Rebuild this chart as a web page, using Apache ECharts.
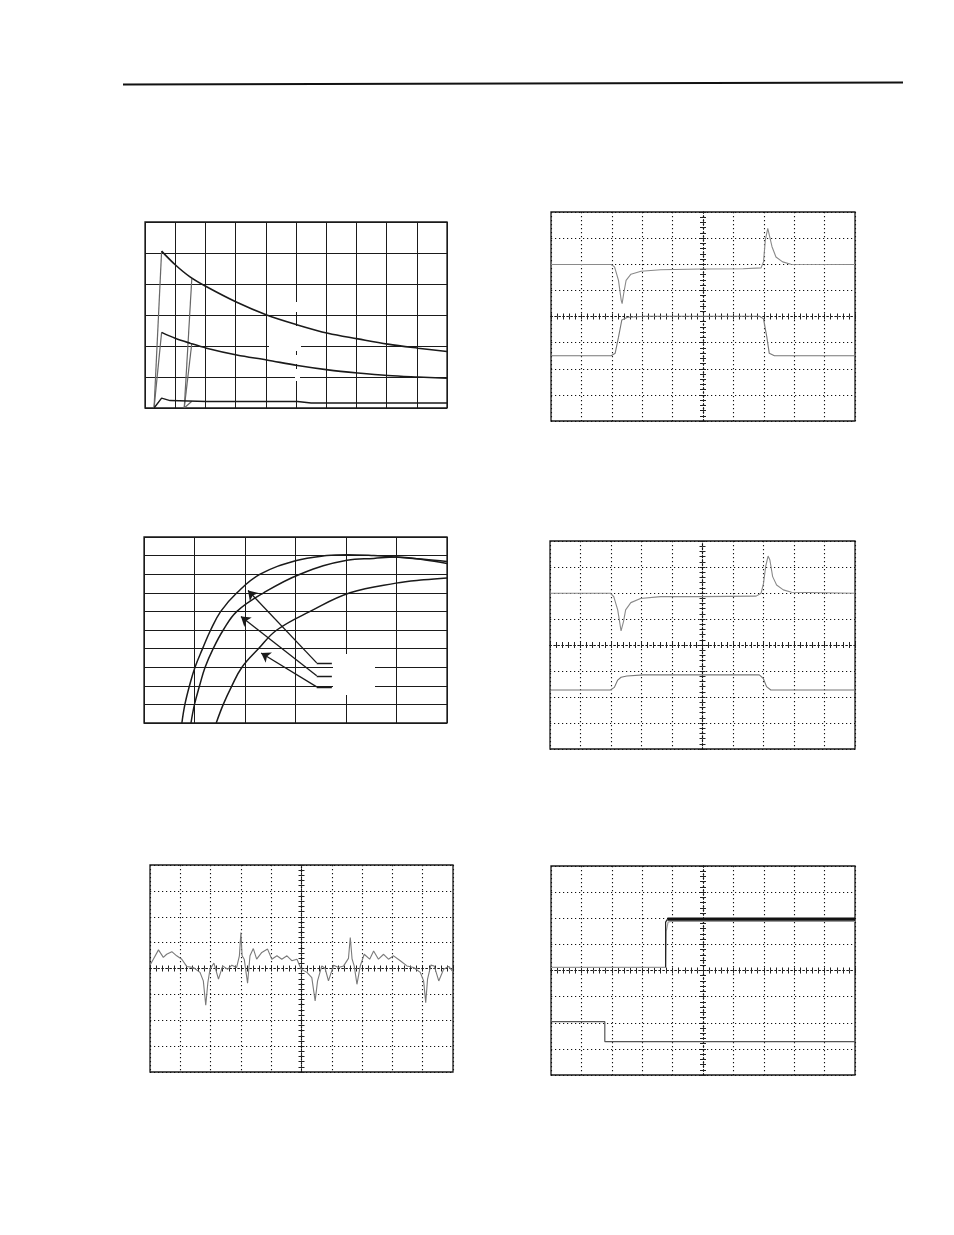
<!DOCTYPE html>
<html>
<head>
<meta charset="utf-8">
<script src="https://cdn.jsdelivr.net/npm/echarts@6/dist/echarts.min.js"></script>
<style>
html,body{margin:0;padding:0;background:#fff;}
#chart{width:954px;height:1235px;}
</style>
</head>
<body>
<div id="chart"></div>
<script>
// ---------- Chart 1 (top-left): decay curves, x 0..10, y 0..6 ----------
const c1Decay1 = [[0.55,5.06],[1.0,4.62],[1.49,4.23],[2.04,3.91],[3.04,3.41],[4.03,3.0],[5.05,2.68],[6.06,2.41],[7.05,2.23],[8.04,2.06],[9.04,1.93],[10,1.82]];
const c1Decay2 = [[0.55,2.44],[1.0,2.25],[1.49,2.09],[2.04,1.93],[3.04,1.71],[4.03,1.55],[5.05,1.37],[6.06,1.23],[7.05,1.13],[8.04,1.05],[9.04,1.0],[10,0.96]];
const c1Decay3 = [[0.30,0],[0.55,0.32],[0.83,0.24],[2.04,0.21],[5.05,0.21],[5.5,0.16],[10,0.16]];
const c1Rise1 = [[0.30,0],[0.55,5.06]];
const c1Rise2 = [[0.30,0],[0.55,2.44]];
const c1Rise3 = [[1.30,0],[1.55,4.18]];
const c1Rise4 = [[1.30,0],[1.55,2.09]];
const c1Rise5 = [[1.30,0],[1.55,0.22]];

// ---------- Chart 2 (middle-left): rising curves, x 0..6, y 0..10 ----------
const c2Curve1 = [[0.75,0],[0.81,1],[0.90,2],[1.01,3],[1.16,4],[1.32,5],[1.52,6],[1.84,7],[2.30,8],[3.0,8.72],[3.62,9.0],[4.02,9.05],[4.55,9.0],[4.99,8.92],[5.54,8.8],[6.0,8.68]];
const c2Curve2 = [[0.93,0],[1.0,1],[1.10,2],[1.21,3],[1.37,4],[1.57,5],[1.84,6],[2.37,7],[3.09,8],[4.02,8.75],[4.55,8.85],[4.99,8.92],[5.54,8.78],[6.0,8.58]];
const c2Curve3 = [[1.43,0],[1.57,1],[1.74,2],[1.94,3],[2.27,4],[2.63,5],[3.29,6],[4.08,7],[4.99,7.52],[5.54,7.7],[6.0,7.8]];
const c2Arrows = [
  [[3.42,3.23],[2.06,7.12]],
  [[3.42,2.54],[1.92,5.72]],
  [[3.42,1.94],[2.32,3.76]]
];
const c2Leaders = [
  [[3.42,3.23],[3.72,3.23]],
  [[3.42,2.54],[3.72,2.54]],
  [[3.42,1.94],[3.72,1.94]]
];

// ---------- Chart 3 (bottom-left scope): x -5..5 div, y -4..4 div ----------
const c3Trace = [[-5,0.13],[-4.89,0.36],[-4.72,0.72],[-4.56,0.43],[-4.45,0.55],[-4.28,0.65],[-4.12,0.49],[-3.95,0.36],[-3.79,0.08],[-3.57,0.04],[-3.35,-0.15],[-3.24,-0.48],[-3.16,-1.42],[-3.09,-0.54],[-3.02,-0.03],[-2.89,0.21],[-2.74,-0.41],[-2.60,0.10],[-2.44,-0.03],[-2.30,0.13],[-2.14,0.04],[-2.05,0.49],[-2.0,1.39],[-1.96,0.49],[-1.89,0.36],[-1.78,-0.57],[-1.70,0.49],[-1.59,0.77],[-1.48,0.36],[-1.31,0.62],[-1.12,0.75],[-0.98,0.36],[-0.81,0.49],[-0.65,0.36],[-0.48,0.49],[-0.32,0.30],[-0.15,0.36],[-0.01,-0.03],[0.18,-0.15],[0.34,-0.35],[0.45,-1.25],[0.53,-0.48],[0.67,0.10],[0.78,0],[0.89,-0.48],[1.06,0.13],[1.22,0.04],[1.39,0.10],[1.55,0.39],[1.61,1.20],[1.67,0.36],[1.74,0.10],[1.83,-0.61],[1.94,0.10],[2.07,0.55],[2.25,0.36],[2.38,0.68],[2.54,0.36],[2.71,0.55],[2.87,0.36],[3.04,0.49],[3.26,0.30],[3.48,0.10],[3.70,0.04],[3.92,-0.15],[4.03,-0.48],[4.10,-1.32],[4.16,-0.41],[4.27,0.13],[4.38,0.10],[4.53,-0.48],[4.69,-0.03],[4.86,0.08],[5,-0.13]];

// ---------- Chart 4 (top-right scope) ----------
const c4Upper = [[-5,1.99],[-3.02,1.99],[-2.91,1.90],[-2.78,1.38],[-2.69,0.62],[-2.66,0.49],[-2.61,0.87],[-2.53,1.38],[-2.37,1.62],[-2.04,1.73],[-1.39,1.79],[-0.06,1.82],[1.32,1.83],[1.91,1.86],[1.99,2.09],[2.05,2.92],[2.13,3.37],[2.18,3.31],[2.27,2.67],[2.40,2.28],[2.62,2.09],[2.89,2.0],[5,1.99]];
const c4Lower = [[-5,-1.5],[-3.02,-1.5],[-2.89,-1.41],[-2.78,-0.79],[-2.67,-0.13],[-2.48,-0.03],[-1.93,0.01],[1.86,0.01],[1.99,-0.09],[2.10,-0.79],[2.18,-1.41],[2.35,-1.5],[5,-1.5]];

// ---------- Chart 5 (middle-right scope) ----------
const c5Upper = [[-5,1.99],[-3.02,1.99],[-2.91,1.86],[-2.78,1.35],[-2.67,0.54],[-2.59,0.90],[-2.52,1.35],[-2.35,1.63],[-2.03,1.79],[-1.38,1.86],[-0.05,1.86],[1.76,1.88],[1.92,1.99],[2.0,2.37],[2.07,3.01],[2.15,3.42],[2.21,3.27],[2.30,2.63],[2.43,2.31],[2.65,2.12],[2.92,2.03],[5,1.99]];
const c5Lower = [[-5,-1.73],[-3.02,-1.73],[-2.89,-1.63],[-2.78,-1.35],[-2.67,-1.24],[-2.48,-1.19],[-1.94,-1.15],[1.86,-1.15],[1.99,-1.28],[2.10,-1.60],[2.24,-1.73],[5,-1.73]];

// ---------- Chart 6 (bottom-right scope) ----------
const c6Grey = [[-5,0.12],[-1.23,0.12],[-1.21,1.5],[-1.15,1.85],[-1.05,1.88],[5,1.88]];
const c6Step = [[-1.23,0.12],[-1.23,1.85],[-1.17,1.96]];
const c6Thick = [[-1.17,1.97],[5,1.97]];
const c6Lower = [[-5,-1.96],[-3.23,-1.96],[-3.23,-2.72],[5,-2.72]];

// ---------- layout ----------
const gridBoxes = [
  {left:145, top:222, width:302, height:186}, // 0 chart1
  {left:144, top:537, width:303, height:186}, // 1 chart2
  {left:150, top:865, width:303, height:207}, // 2 chart3
  {left:551, top:212, width:304, height:209}, // 3 chart4
  {left:550, top:541, width:305, height:208}, // 4 chart5
  {left:551, top:866, width:304, height:209}  // 5 chart6
];

const grids = gridBoxes.map(b => Object.assign({show:true, borderColor:'#1a1a1a', borderWidth:1.3, backgroundColor:'transparent', containLabel:false}, b));
const xAxes = [];
const yAxes = [];
const series = [];
const DOT = {color:'#111', width:1.1, type:[1.2,2.8]};

function plainAxes(g, xmax, ymax) {
  const base = {gridIndex:g, type:'value', min:0, axisLabel:{show:false}, axisTick:{show:false}, axisLine:{show:false},
    splitLine:{show:true, lineStyle:{color:'#1a1a1a', width:1}}};
  xAxes.push(Object.assign({}, base, {max:xmax, interval:1}));
  yAxes.push(Object.assign({}, base, {max:ymax, interval:1}));
  return [xAxes.length-1, yAxes.length-1];
}

function scopeAxes(g) {
  const common = {gridIndex:g, type:'value', interval:1, axisLabel:{show:false},
    axisLine:{show:true, onZero:true, lineStyle:DOT},
    axisTick:{show:true, inside:false, length:3, lineStyle:{color:'#222', width:1}},
    minorTick:{show:true, splitNumber:5, length:3, lineStyle:{color:'#222', width:1}}};
  const xi = xAxes.length, yi = yAxes.length;
  xAxes.push(Object.assign({}, common, {min:-5, max:5, position:'bottom', splitLine:{show:true, lineStyle:DOT}}));
  xAxes.push(Object.assign({}, common, {min:-5, max:5, position:'top', splitLine:{show:false}}));
  yAxes.push(Object.assign({}, common, {min:-4, max:4, position:'left', splitLine:{show:true, lineStyle:DOT}}));
  yAxes.push(Object.assign({}, common, {min:-4, max:4, position:'right', splitLine:{show:false}}));
  return [xi, yi];
}

function addLine(axes, data, color, width, smooth) {
  series.push({type:'line', xAxisIndex:axes[0], yAxisIndex:axes[1], data:data, showSymbol:false, symbol:'none',
    smooth: smooth || false, lineStyle:{color:color, width:width}, silent:true, animation:false, z:3});
}

// chart 1
const a1 = plainAxes(0, 10, 6);
[c1Rise1, c1Rise2, c1Rise3, c1Rise4, c1Rise5].forEach(d => addLine(a1, d, '#666', 1.2));
addLine(a1, c1Decay1, '#1a1a1a', 1.6, 0.35);
addLine(a1, c1Decay2, '#1a1a1a', 1.6, 0.35);
addLine(a1, c1Decay3, '#1a1a1a', 1.4);

// chart 2
const a2 = plainAxes(1, 6, 10);
addLine(a2, c2Curve1, '#1a1a1a', 1.5, 0.4);
addLine(a2, c2Curve2, '#1a1a1a', 1.5, 0.4);
addLine(a2, c2Curve3, '#1a1a1a', 1.5, 0.4);
series.push({type:'lines', coordinateSystem:'cartesian2d', xAxisIndex:a2[0], yAxisIndex:a2[1],
  data: c2Arrows.map(c => ({coords:c})), symbol:['none','arrow'], symbolSize:[0,9],
  lineStyle:{color:'#1a1a1a', width:1.3, opacity:1}, silent:true, animation:false, z:4});
series.push({type:'lines', coordinateSystem:'cartesian2d', xAxisIndex:a2[0], yAxisIndex:a2[1],
  data: c2Leaders.map(c => ({coords:c})), symbol:['none','none'],
  lineStyle:{color:'#1a1a1a', width:1.3, opacity:1}, silent:true, animation:false, z:4});

// chart 3
const a3 = scopeAxes(2);
addLine(a3, c3Trace, '#7a7a7a', 1.1);

// chart 4
const a4 = scopeAxes(3);
addLine(a4, c4Upper, '#8a8a8a', 1.1);
addLine(a4, c4Lower, '#777', 1.1);

// chart 5
const a5 = scopeAxes(4);
addLine(a5, c5Upper, '#8a8a8a', 1.1);
addLine(a5, c5Lower, '#777', 1.1);

// chart 6
const a6 = scopeAxes(5);
addLine(a6, c6Grey, '#999', 1.2);
addLine(a6, c6Lower, '#555', 1.2);
addLine(a6, c6Step, '#222', 1.2);
addLine(a6, c6Thick, '#111', 3.2);

const chart = echarts.init(document.getElementById('chart'), null, {renderer:'canvas'});
chart.setOption({
  animation:false,
  backgroundColor:'#ffffff',
  grid: grids,
  xAxis: xAxes,
  yAxis: yAxes,
  series: series,
  graphic: [
    {type:'line', z:5, shape:{x1:123, y1:84.5, x2:903, y2:82.5}, style:{stroke:'#111', lineWidth:2}},
    // blanked label areas
    {type:'rect', z:1, shape:{x:269, y:343, width:32, height:8}, style:{fill:'#fff'}},
    {type:'rect', z:1, shape:{x:295, y:302, width:5, height:10}, style:{fill:'#fff'}},
    {type:'rect', z:1, shape:{x:295, y:326, width:5, height:24}, style:{fill:'#fff'}},
    {type:'rect', z:1, shape:{x:295, y:355, width:5, height:9}, style:{fill:'#fff'}},
    {type:'rect', z:1, shape:{x:295, y:369, width:5, height:12}, style:{fill:'#fff'}},
    {type:'rect', z:1, shape:{x:333, y:654, width:42, height:41}, style:{fill:'#fff'}}
  ]
});
</script>
</body>
</html>
